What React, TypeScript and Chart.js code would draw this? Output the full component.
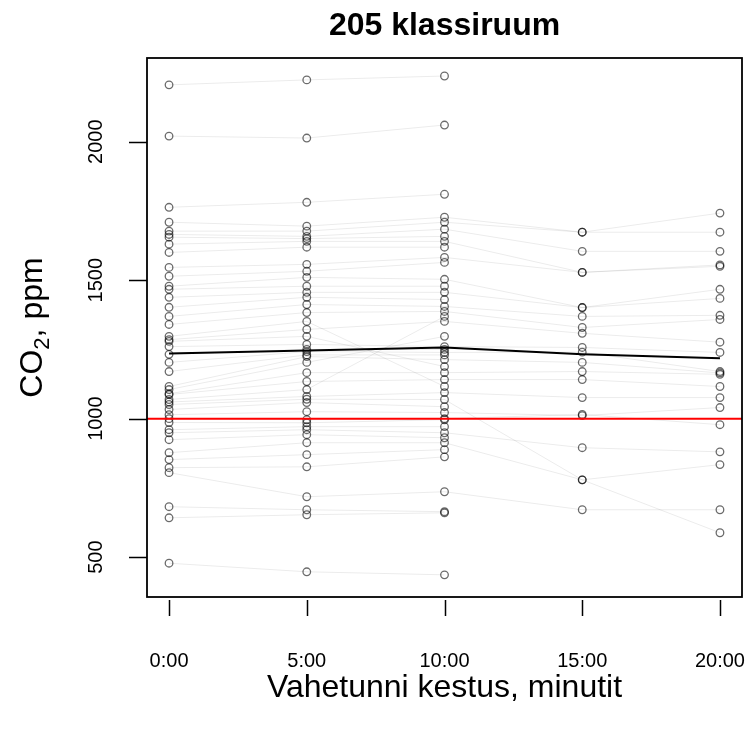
import React, { useEffect, useRef } from "react";
import { Chart, registerables } from "chart.js";

Chart.register(...registerables);

// ---- data ----
const times = [0, 5, 10, 15, 20];
const xTickLabels = ["0:00", "5:00", "10:00", "15:00", "20:00"];
const yTicks = [500, 1000, 1500, 2000];

// one entry per break (session); null = no measurement at that minute
const co2At0 = [2205, 2020, 1763, 1709, 1677, 1665, 1655, 1630, 1600, 1546, 1514, 1478, 1467, 1438, 1402, 1369, 1340, 1297, 1285, 1279, 1260, 1232, 1203, 1170, 1116, 1105, 1090, 1087, 1069, 1060, 1051, 1033, 1014, 1000, 986, 960, 949, 924, 877, 852, 823, 805, 682, 642, 478];
const co2At5 = [2223, 2013, 1781, 1695, 1677, 1658, 1650, 1640, 1619, 1557, 1532, 1510, 1478, 1456, 1438, 1412, 1383, 1351, 1322, 1297, 1268, 1250, 1242, 1230, 1224, 1203, 1166, 1134, 1105, 1080, 1070, 1058, 1025, 996, 985, 971, 960, 942, 913, 870, 826, 718, 671, 653, 447];
const co2At10 = [2237, 2060, 1810, 1727, 1709, 1684, 1658, 1640, 1619, 1582, 1564, 1503, 1478, 1456, 1430, 1405, 1387, 1116, 1351, 1188, 1260, 1250, 1239, 1230, 1213, 1297, 1166, 1141, 1369, 1094, 1069, 1043, 1022, 1000, 996, 971, 949, 931, 913, 888, 862, 736, 664, 660, 436];
const co2At15 = [null, null, null, 1673, 1673, 1604, null, 1528, null, 1528, null, 1401, null, 1401, null, 1369, 1329, null, 1308, null, 1257, null, 1240, null, 1203, null, 1170, 1141, null, 1076, 779, null, 1011, 1015, null, null, 895, null, 779, null, null, 671, null, null, null];
const co2At20 = [null, null, null, 1742, 1673, 1604, null, 1555, null, 1550, null, 1467, null, 1434, null, 1373, 1358, null, 1276, null, 1239, null, 1170, null, 1165, null, 1160, 1116, null, 1076, 588, null, 1040, 978, null, null, 880, null, 834, null, null, 671, null, null, null];

const meanCo2 = [1235, 1246, 1257, 1232, 1218];
const threshold = 1000;

const xMin = -0.8;
const xMax = 20.8;
const yMin = 356;
const yMax = 2302;

const FONT = '"Liberation Sans", Arial, sans-serif';

const rAxesPlugin = {
  id: "rAxes",
  afterDraw(chart: any) {
    const { ctx, chartArea: a, scales } = chart;
    const xs = scales.x;
    const ys = scales.y;
    ctx.save();
    ctx.strokeStyle = "#000";
    ctx.lineWidth = 1.8;
    ctx.strokeRect(a.left, a.top, a.right - a.left, a.bottom - a.top);

    ctx.lineWidth = 1.5;
    ctx.beginPath();
    times.forEach((t) => {
      const px = Math.round(xs.getPixelForValue(t)) + 0.5;
      ctx.moveTo(px, a.bottom + 3);
      ctx.lineTo(px, a.bottom + 19);
    });
    yTicks.forEach((v) => {
      const py = Math.round(ys.getPixelForValue(v)) + 0.5;
      ctx.moveTo(a.left - 18, py);
      ctx.lineTo(a.left, py);
    });
    ctx.stroke();

    ctx.fillStyle = "#000";
    ctx.textAlign = "center";
    ctx.textBaseline = "middle";
    ctx.font = `20px ${FONT}`;
    times.forEach((t, i) => {
      ctx.fillText(xTickLabels[i], xs.getPixelForValue(t), 661);
    });
    yTicks.forEach((v) => {
      ctx.save();
      ctx.translate(96, ys.getPixelForValue(v));
      ctx.rotate(-Math.PI / 2);
      ctx.fillText(String(v), 0, 0);
      ctx.restore();
    });

    const cx = (a.left + a.right) / 2;
    ctx.font = `bold 32px ${FONT}`;
    ctx.fillText("205 klassiruum", cx, 26);

    ctx.font = `32px ${FONT}`;
    ctx.fillText("Vahetunni kestus, minutit", cx, 688);

    // y title with subscript
    ctx.save();
    ctx.translate(42, (a.top + a.bottom) / 2);
    ctx.rotate(-Math.PI / 2);
    ctx.textAlign = "left";
    ctx.textBaseline = "alphabetic";
    const f1 = `32px ${FONT}`;
    const f2 = `22px ${FONT}`;
    ctx.font = f1;
    const w1 = ctx.measureText("CO").width;
    const w3 = ctx.measureText(", ppm").width;
    ctx.font = f2;
    const w2 = ctx.measureText("2").width;
    const x0 = -(w1 + w2 + w3) / 2;
    ctx.font = f1;
    ctx.fillText("CO", x0, 0);
    ctx.font = f2;
    ctx.fillText("2", x0 + w1, 7);
    ctx.font = f1;
    ctx.fillText(", ppm", x0 + w1 + w2, 0);
    ctx.restore();

    ctx.restore();
  },
};

export default function App() {
  const ref = useRef<HTMLCanvasElement | null>(null);

  useEffect(() => {
    const canvas = ref.current;
    if (!canvas) return;
    const columns = [co2At0, co2At5, co2At10, co2At15, co2At20];
    const datasets: any[] = [];

    datasets.push({
      data: [
        { x: xMin, y: threshold },
        { x: xMax, y: threshold },
      ],
      borderColor: "#ff0000",
      borderWidth: 2,
      pointRadius: 0,
      order: 0,
    });
    datasets.push({
      data: meanCo2.map((v, i) => ({ x: times[i], y: v })),
      borderColor: "#000000",
      borderWidth: 2,
      pointRadius: 0,
      order: 1,
    });

    for (let s = 0; s < co2At0.length; s++) {
      const pts: { x: number; y: number }[] = [];
      columns.forEach((col, i) => {
        const v = col[s];
        if (v !== null && v !== undefined) pts.push({ x: times[i], y: v as number });
      });
      datasets.push({
        data: pts,
        borderColor: "rgba(0,0,0,0.08)",
        borderWidth: 1,
        pointRadius: 3.8,
        pointBorderWidth: 1.3,
        pointBorderColor: "rgba(0,0,0,0.58)",
        pointBackgroundColor: "rgba(0,0,0,0)",
        order: 2,
      });
    }

    const chart = new Chart(canvas, {
      type: "line",
      data: { datasets },
      options: {
        animation: false,
        responsive: false,
        devicePixelRatio: 1,
        layout: { padding: { left: 147, right: 10, top: 58, bottom: 134 } },
        scales: {
          x: { type: "linear", min: xMin, max: xMax, display: false },
          y: { type: "linear", min: yMin, max: yMax, display: false },
        },
        elements: { line: { tension: 0 } },
        plugins: {
          legend: { display: false },
          tooltip: { enabled: false },
          title: { display: false },
        },
      },
      plugins: [rAxesPlugin],
    } as any);

    return () => chart.destroy();
  }, []);

  return (
    <div style={{ position: "absolute", left: 0, top: 0, width: 752, height: 731, background: "#fff" }}>
      <canvas ref={ref} width={752} height={731} style={{ display: "block" }} />
    </div>
  );
}
